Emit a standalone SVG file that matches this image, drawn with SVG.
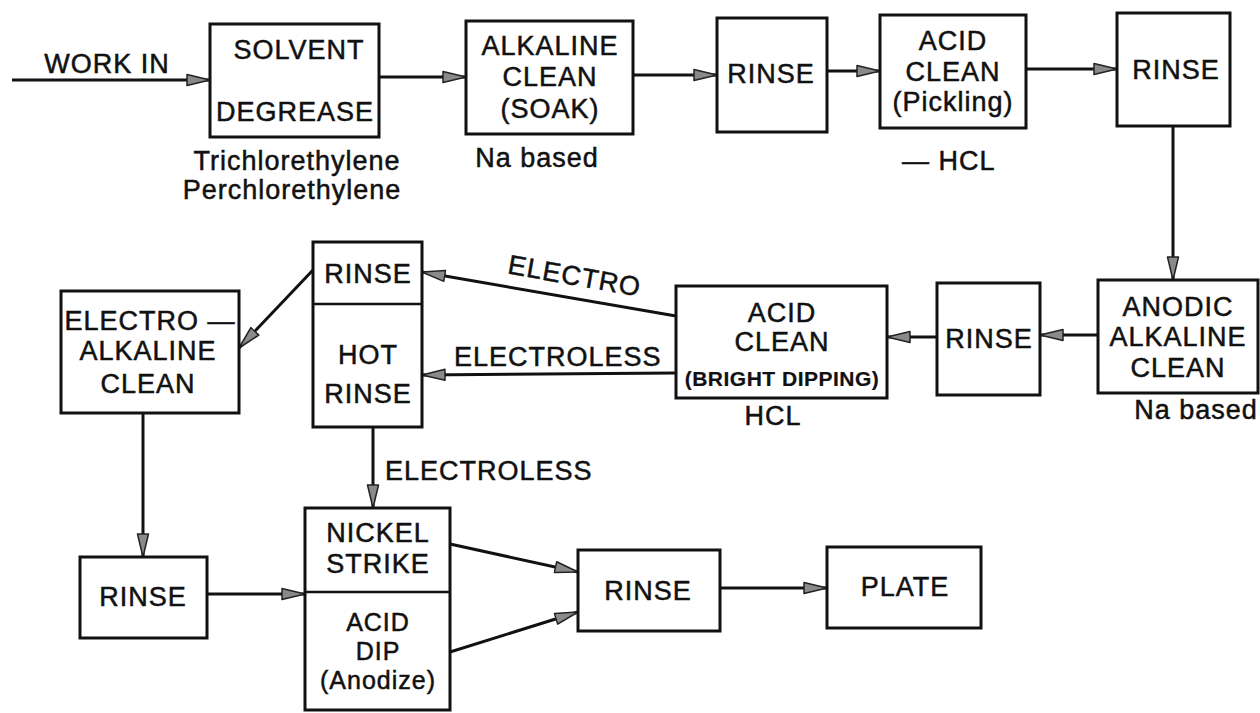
<svg xmlns="http://www.w3.org/2000/svg" width="1260" height="713" viewBox="0 0 1260 713">
<style>
.box{fill:#fff;stroke:#111;stroke-width:3}
.div{stroke:#111;stroke-width:2.5}
.t{font-family:"Liberation Sans",Arial,sans-serif;font-size:27px;fill:#111;stroke:#111;stroke-width:0.5px;text-anchor:middle;letter-spacing:1px}
.s{font-size:21px;font-weight:bold;letter-spacing:0.5px;stroke-width:0.2px}
.m{font-size:25px}
.l{text-anchor:start}
.c{fill:none;stroke:#111;stroke-width:3;marker-end:url(#ah)}
</style>
<defs>
<marker id="ah" markerUnits="userSpaceOnUse" markerWidth="26" markerHeight="14" viewBox="0 0 26 14" refX="24" refY="7" orient="auto">
<path d="M1,1.5 L24,7 L1,12.5 z" fill="#8a8a8a" stroke="#222" stroke-width="1.5" stroke-linejoin="round"/>
</marker>
</defs>
<rect width="1260" height="713" fill="#fff"/>
<g id="connectors">
<path class="c" d="M12,80 H210"/>
<path class="c" d="M379,77 H466"/>
<path class="c" d="M633,75 H717"/>
<path class="c" d="M827,71 H880"/>
<path class="c" d="M1026,69 H1117"/>
<path class="c" d="M1173,126 V280"/>
<path class="c" d="M1098,335 H1040"/>
<path class="c" d="M937,337 H887"/>
<path class="c" d="M676,316 L422,272"/>
<path class="c" d="M676,373 L422,375"/>
<path class="c" d="M313,270 L239,348"/>
<path class="c" d="M143,413 V557"/>
<path class="c" d="M373,428 V508"/>
<path class="c" d="M207,594 H305"/>
<path class="c" d="M450,544 L578,572"/>
<path class="c" d="M450,652 L578,612"/>
<path class="c" d="M720,588 H827"/>
<text class="t" x="107" y="73">WORK IN</text>
<text class="t" transform="translate(573,285) rotate(10)" x="0" y="0">ELECTRO</text>
<text class="t l" x="454" y="366">ELECTROLESS</text>
<text class="t l" x="385" y="480">ELECTROLESS</text>
</g>
<g id="solvent">
<rect class="box" x="210" y="24" width="169" height="113"/>
<text class="t" x="299" y="59">SOLVENT</text>
<text class="t" x="295" y="121">DEGREASE</text>
<text class="t" x="297" y="170">Trichlorethylene</text>
<text class="t" x="292" y="199">Perchlorethylene</text>
</g>
<g id="alkaline">
<rect class="box" x="466" y="21" width="167" height="113"/>
<text class="t" x="550" y="55">ALKALINE</text>
<text class="t" x="550" y="86">CLEAN</text>
<text class="t" x="550" y="118">(SOAK)</text>
<text class="t" x="537" y="167">Na based</text>
</g>
<g id="rinse1">
<rect class="box" x="717" y="18" width="110" height="114"/>
<text class="t" x="771" y="83">RINSE</text>
</g>
<g id="acid1">
<rect class="box" x="880" y="15" width="146" height="113"/>
<text class="t" x="953" y="50">ACID</text>
<text class="t" x="953" y="81">CLEAN</text>
<text class="t" x="953" y="111">(Pickling)</text>
<text class="t l" x="902" y="170">— HCL</text>
</g>
<g id="rinse2">
<rect class="box" x="1117" y="13" width="113" height="113"/>
<text class="t" x="1176" y="79">RINSE</text>
</g>
<g id="anodic">
<rect class="box" x="1098" y="280" width="160" height="113"/>
<text class="t" x="1178" y="316">ANODIC</text>
<text class="t" x="1178" y="346">ALKALINE</text>
<text class="t" x="1178" y="377">CLEAN</text>
<text class="t" x="1196" y="419">Na based</text>
</g>
<g id="rinse3">
<rect class="box" x="937" y="283" width="103" height="112"/>
<text class="t" x="989" y="348">RINSE</text>
</g>
<g id="acid2">
<rect class="box" x="676" y="286" width="211" height="112"/>
<text class="t" x="782" y="322">ACID</text>
<text class="t" x="782" y="351">CLEAN</text>
<text class="t s" x="782" y="386">(BRIGHT DIPPING)</text>
<text class="t" x="773" y="425">HCL</text>
</g>
<g id="rinse-hotrinse">
<rect class="box" x="313" y="242" width="109" height="185"/>
<line class="div" x1="313" y1="304" x2="422" y2="304"/>
<text class="t" x="368" y="283">RINSE</text>
<text class="t" x="368" y="364">HOT</text>
<text class="t" x="368" y="403">RINSE</text>
</g>
<g id="electro-alkaline">
<rect class="box" x="61" y="291" width="178" height="122"/>
<text class="t" x="150" y="330">ELECTRO —</text>
<text class="t" x="148" y="360">ALKALINE</text>
<text class="t" x="148" y="393">CLEAN</text>
</g>
<g id="rinse4">
<rect class="box" x="80" y="557" width="127" height="81"/>
<text class="t" x="143" y="606">RINSE</text>
</g>
<g id="nickel-aciddip">
<rect class="box" x="305" y="508" width="145" height="202"/>
<line class="div" x1="305" y1="592" x2="450" y2="592"/>
<text class="t" x="378" y="542">NICKEL</text>
<text class="t" x="378" y="573">STRIKE</text>
<text class="t m" x="378" y="631">ACID</text>
<text class="t m" x="378" y="660">DIP</text>
<text class="t m" x="378" y="689">(Anodize)</text>
</g>
<g id="rinse5">
<rect class="box" x="578" y="550" width="142" height="81"/>
<text class="t" x="648" y="600">RINSE</text>
</g>
<g id="plate">
<rect class="box" x="827" y="547" width="154" height="81"/>
<text class="t" x="905" y="596">PLATE</text>
</g>
</svg>
